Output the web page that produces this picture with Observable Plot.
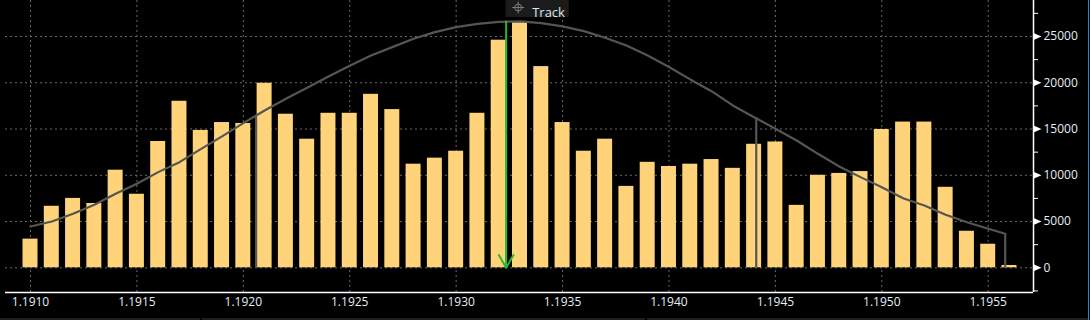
<!DOCTYPE html>
<html><head><meta charset="utf-8">
<script src="https://cdn.jsdelivr.net/npm/d3@7"></script>
<script src="https://cdn.jsdelivr.net/npm/@observablehq/plot@0.6"></script>
<style>
html,body{margin:0;padding:0;background:#000;}
#wrap{position:relative;width:1090px;height:320px;overflow:hidden;background:#000;}
#wrap svg{display:block;}
.strip{position:absolute;top:318px;height:2px;background:#1e1e1e;}
#edge{position:absolute;left:1088px;top:0;width:1px;height:320px;background:#2f7fd0;}
</style></head><body><div id="wrap"></div><script>
// ---- data ----
const barPrices = [1.1910,1.1911,1.1912,1.1913,1.1914,1.1915,1.1916,1.1917,1.1918,1.1919,
  1.1920,1.1921,1.1922,1.1923,1.1924,1.1925,1.1926,1.1927,1.1928,1.1929,
  1.1930,1.1931,1.1932,1.1933,1.1934,1.1935,1.1936,1.1937,1.1938,1.1939,
  1.1940,1.1941,1.1942,1.1943,1.1944,1.1945,1.1946,1.1947,1.1948,1.1949,
  1.1950,1.1951,1.1952,1.1953,1.1954,1.1955,1.1956];
const barVolumes = [3100,6650,7500,6950,10550,7950,13650,18000,14850,15700,
  15600,19950,16600,13900,16700,16700,18750,17100,11200,11850,
  12600,16700,24600,26550,21750,15700,12600,13900,8800,11400,
  10950,11200,11700,10750,13350,13600,6750,10000,10200,10400,
  14950,15750,15750,8700,3950,2550,250];
const curvePrices = [1.1910,1.1911,1.1912,1.1913,1.1914,1.1915,1.1916,1.1917,1.1918,1.1919,
  1.1920,1.1921,1.1922,1.1923,1.1924,1.1925,1.1926,1.1927,1.1928,1.1929,
  1.1930,1.1931,1.1932,1.1933,1.1934,1.1935,1.1936,1.1937,1.1938,1.1939,
  1.1940,1.1941,1.1942,1.1943,1.1944,1.1945,1.1946,1.1947,1.1948,1.1949,
  1.1950,1.1951,1.1952,1.1953,1.1954,1.1955,1.19558];
const curveValues = [4465,5000,5840,6810,8000,9080,10340,11420,12820,14200,
  15630,17000,18270,19460,20680,21840,22950,23850,24760,25470,
  26010,26370,26590,26630,26440,26090,25580,24860,24030,22950,
  21700,20360,19090,17550,16280,15030,13760,12320,10950,9800,
  8710,7520,6735,5730,4930,4215,3675];
const boundaryPrices = [1.19206, 1.19441, 1.19558];
const boundaryTops = [16250, 16250, 3675];
const trackPrice = 1.193235;
const trackTop = 26630;
const trackLabel = "Track";
const xTicks = [1.1910,1.1915,1.1920,1.1925,1.1930,1.1935,1.1940,1.1945,1.1950,1.1955];
const yTicks = [0,5000,10000,15000,20000,25000];
const yMinorTicks = [-2500,2500,7500,12500,17500,22500,27500];
const xDomain = [1.1908825, 1.1957128];
const yDomain = [-2670, 28890];

// ---- derived tables ----
const bars = barPrices.map((p, i) => ({price: p, volume: barVolumes[i]}));
const curve = curvePrices.map((p, i) => ({price: p, value: curveValues[i]}));
const bounds = boundaryPrices.map((p, i) => ({price: p, top: boundaryTops[i]}));
const halfW = 0.0000352;

const pointer = {draw(ctx) { ctx.moveTo(0, -3.5); ctx.lineTo(8, 0); ctx.lineTo(0, 3.5); ctx.closePath(); }};

function trackBox(index, scales, values, dimensions) {
  const x0 = scales.x(trackPrice);
  const g = d3.create("svg:g");
  g.append("rect").attr("x", x0).attr("y", dimensions.marginTop).attr("width", 63).attr("height", 17).attr("fill", "#1b1b1b");
  const cx = x0 + 12.5, cy = 7.5;
  g.append("circle").attr("cx", cx).attr("cy", cy).attr("r", 3.5).attr("fill", "none").attr("stroke", "#7c7c7c").attr("stroke-width", 1);
  g.append("path").attr("d", `M${cx-6},${cy}H${cx+6}M${cx},${cy-6}V${cy+6}`).attr("stroke", "#7c7c7c").attr("stroke-width", 1);
  return g.node();
}

const grid = {stroke: "#6a6a6a", strokeOpacity: 1, strokeDasharray: "2,3", strokeWidth: 1};

const chart = Plot.plot({
  width: 1090, height: 320,
  marginLeft: 5, marginRight: 57, marginTop: 0, marginBottom: 28,
  style: {background: "#000", color: "#e6edf5", fontFamily: "'Open Sans', sans-serif", fontSize: "12px", overflow: "visible"},
  x: {type: "linear", domain: xDomain, axis: null, label: null},
  y: {domain: yDomain, axis: null, label: null},
  marks: [
    Plot.gridY(yTicks, grid),
    Plot.gridX(xTicks, grid),
    Plot.rectY(bars, {x1: d => d.price - halfW, x2: d => d.price + halfW, y1: 0, y2: "volume", fill: "#ffd37a"}),
    Plot.line(curve, {x: "price", y: "value", stroke: "#555555", strokeWidth: 2.2}),
    Plot.ruleX(bounds, {x: "price", y1: 0, y2: "top", stroke: "#555555", strokeWidth: 2.2}),
    Plot.arrow([{x: trackPrice, y1: trackTop, y2: 0}], {x: "x", y1: "y1", y2: "y2", stroke: "#2db82d", strokeWidth: 2, headLength: 11, headAngle: 60}),
    Plot.ruleY([yDomain[0]], {stroke: "#ffffff", strokeWidth: 1.5}),
    Plot.ruleX([xDomain[1]], {stroke: "#ffffff", strokeWidth: 1.5}),
    Plot.axisY(yMinorTicks, {anchor: "right", tickSize: 4, tickFormat: () => "", stroke: "#ffffff", label: null}),
    Plot.axisY(yTicks, {anchor: "right", tickSize: 0, tickPadding: 10, tickFormat: d => String(d), fill: "#e6edf5", label: null}),
    Plot.dot(yTicks, {x: () => xDomain[1], y: d => d, symbol: pointer, fill: "#ffffff", stroke: null}),
    Plot.axisX(xTicks, {anchor: "bottom", tickSize: 0, tickPadding: 5, tickFormat: d3.format(".4f"), fill: "#e6edf5", label: null}),
    trackBox,
    Plot.text([{p: trackPrice, t: trackLabel}], {x: "p", text: "t", frameAnchor: "top", textAnchor: "start", dx: 26, dy: 7.5, fill: "#dde6f0", fontSize: 13})
  ]
});
const wrap = document.getElementById("wrap");
wrap.appendChild(chart);
[[0,200],[202,443],[647,441]].forEach(([l,w]) => {
  const s = document.createElement("div"); s.className = "strip"; s.style.left = l + "px"; s.style.width = w + "px"; wrap.appendChild(s);
});
const e = document.createElement("div"); e.id = "edge"; wrap.appendChild(e);
</script></body></html>
